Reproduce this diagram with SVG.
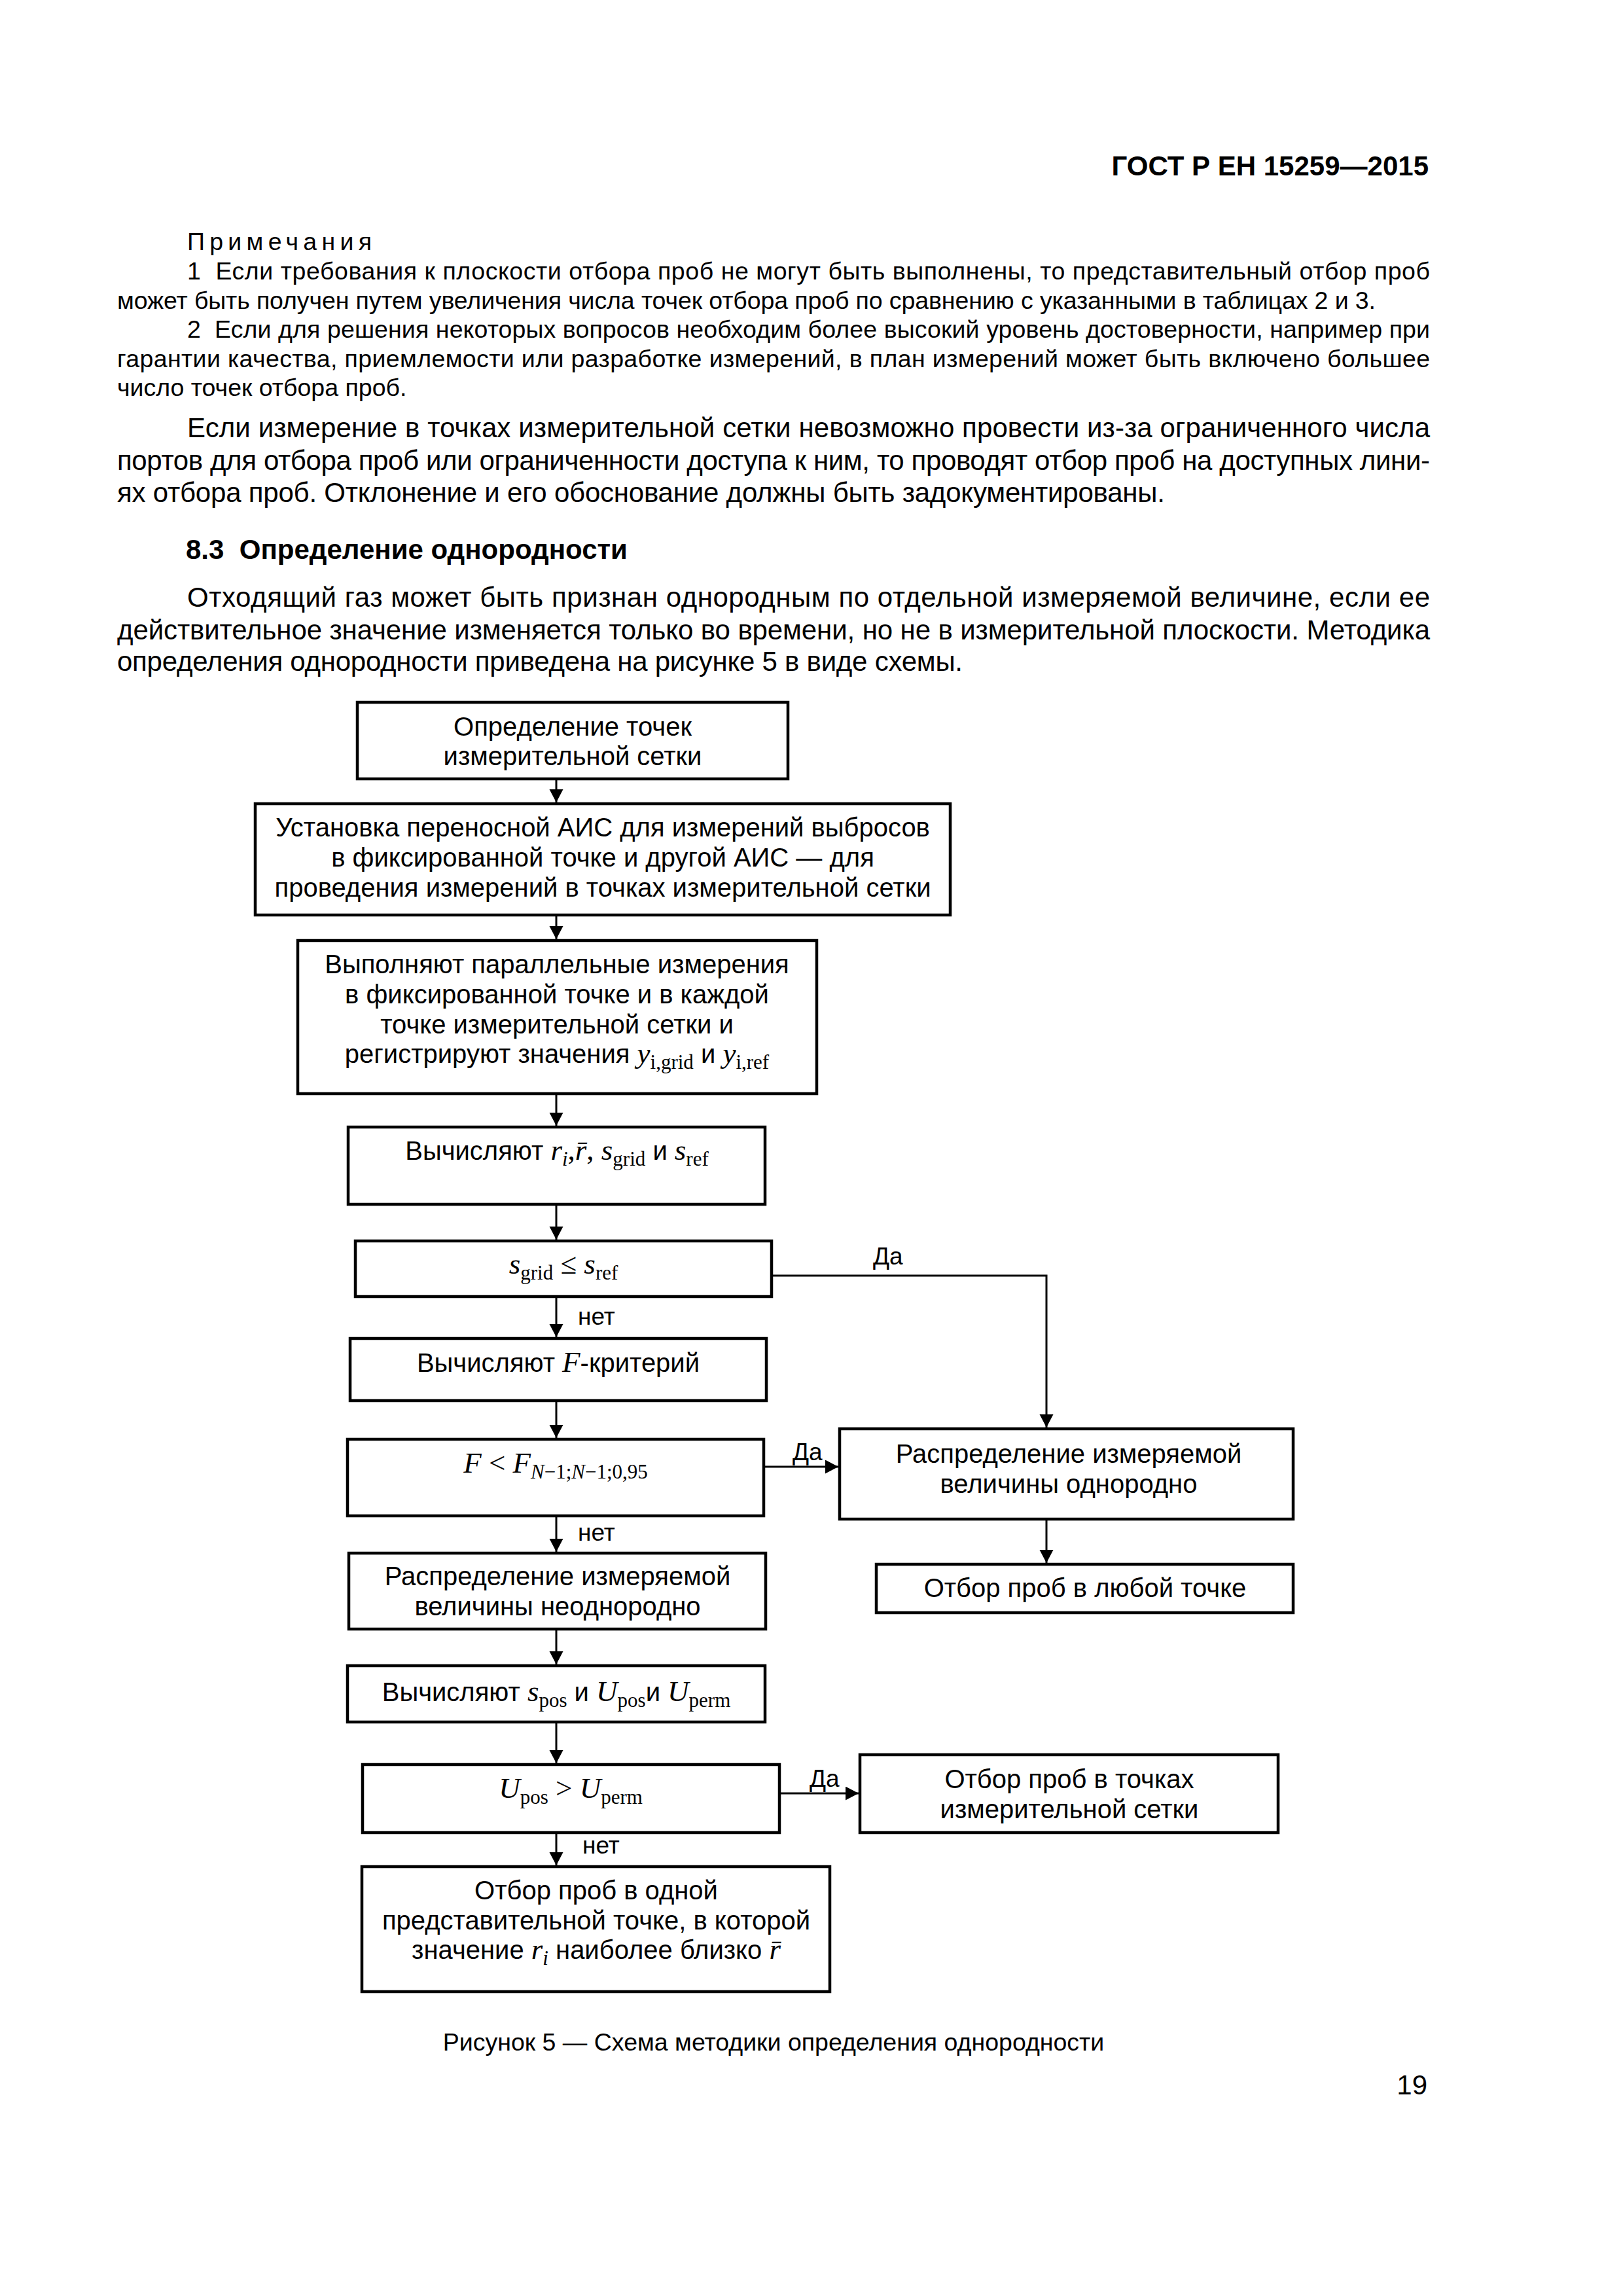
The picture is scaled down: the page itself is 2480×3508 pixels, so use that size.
<svg xmlns="http://www.w3.org/2000/svg" width="2480" height="3508" viewBox="0 0 2480 3508">
<style>
text{font-family:"Liberation Sans",Arial,sans-serif;fill:#000}
.hdr{font-size:42px;font-weight:bold}
.body{font-size:42px}
.bold{font-weight:bold}
.note{font-size:37.5px}
.fc{font-size:40px;text-anchor:middle}
.lbl{font-size:37px}
.cap{font-size:37.5px;text-anchor:middle}
.mi{font-family:"Liberation Serif",serif;font-style:italic;font-size:45px}
.mr{font-family:"Liberation Serif",serif;font-size:45px}
.sub{font-family:"Liberation Serif",serif;font-size:31px;font-style:normal}
.subi{font-family:"Liberation Serif",serif;font-size:31px;font-style:italic}
.box{fill:#fff;stroke:#000;stroke-width:4.5}
.con{fill:none;stroke:#000;stroke-width:3}
</style>
<defs>
<marker id="ah" markerUnits="userSpaceOnUse" markerWidth="22" markerHeight="22" refX="20" refY="10.5" orient="auto">
<path d="M0,0 L20,10.5 L0,21 Z" fill="#000"/>
</marker>
</defs>
<rect width="2480" height="3508" fill="#fff"/>

<g id="page-text">
<text class="hdr" x="2183" y="268" text-anchor="end">ГОСТ Р ЕН 15259—2015</text>
<text class="note" x="286" y="382" textLength="282" lengthAdjust="spacing">Примечания</text>
<text class="note" x="286" y="427" textLength="1899" lengthAdjust="spacing">1&#160; Если требования к плоскости отбора проб не могут быть выполнены, то представительный отбор проб</text>
<text class="note" x="179" y="472" textLength="1923" lengthAdjust="spacing">может быть получен путем увеличения числа точек отбора проб по сравнению с указанными в таблицах 2 и 3.</text>
<text class="note" x="286" y="516" textLength="1899" lengthAdjust="spacing">2&#160; Если для решения некоторых вопросов необходим более высокий уровень достоверности, например при</text>
<text class="note" x="179" y="561" textLength="2006" lengthAdjust="spacing">гарантии качества, приемлемости или разработке измерений, в план измерений может быть включено большее</text>
<text class="note" x="179" y="605">число точек отбора проб.</text>
<text class="body" x="286" y="668" textLength="1899" lengthAdjust="spacing">Если измерение в точках измерительной сетки невозможно провести из-за ограниченного числа</text>
<text class="body" x="179" y="718" textLength="2006" lengthAdjust="spacing">портов для отбора проб или ограниченности доступа к ним, то проводят отбор проб на доступных лини-</text>
<text class="body" x="179" y="767" textLength="1601" lengthAdjust="spacing">ях отбора проб. Отклонение и его обоснование должны быть задокументированы.</text>
<text class="body bold" x="284" y="854">8.3&#160; Определение однородности</text>
<text class="body" x="286" y="927" textLength="1899" lengthAdjust="spacing">Отходящий газ может быть признан однородным по отдельной измеряемой величине, если ее</text>
<text class="body" x="179" y="977" textLength="2006" lengthAdjust="spacing">действительное значение изменяется только во времени, но не в измерительной плоскости. Методика</text>
<text class="body" x="179" y="1025" textLength="1292" lengthAdjust="spacing">определения однородности приведена на рисунке 5 в виде схемы.</text>
<text class="cap" x="1182" y="3133">Рисунок 5 — Схема методики определения однородности</text>
<text class="body" x="2181" y="3200" text-anchor="end">19</text>
</g>

<g id="connectors">
<line class="con" x1="850" y1="1190" x2="850" y2="1226" marker-end="url(#ah)"/>
<line class="con" x1="850" y1="1398" x2="850" y2="1435" marker-end="url(#ah)"/>
<line class="con" x1="850" y1="1671" x2="850" y2="1720" marker-end="url(#ah)"/>
<line class="con" x1="850" y1="1840" x2="850" y2="1894" marker-end="url(#ah)"/>
<line class="con" x1="850" y1="1981" x2="850" y2="2043" marker-end="url(#ah)"/>
<line class="con" x1="850" y1="2140" x2="850" y2="2197" marker-end="url(#ah)"/>
<line class="con" x1="850" y1="2316" x2="850" y2="2371" marker-end="url(#ah)"/>
<line class="con" x1="850" y1="2489" x2="850" y2="2543" marker-end="url(#ah)"/>
<line class="con" x1="850" y1="2631" x2="850" y2="2694" marker-end="url(#ah)"/>
<line class="con" x1="850" y1="2800" x2="850" y2="2850" marker-end="url(#ah)"/>
<polyline class="con" points="1179,1949 1599,1949 1599,2181" marker-end="url(#ah)"/>
<line class="con" x1="1167" y1="2241" x2="1281" y2="2241" marker-end="url(#ah)"/>
<line class="con" x1="1599" y1="2321" x2="1599" y2="2388" marker-end="url(#ah)"/>
<line class="con" x1="1191" y1="2740" x2="1312" y2="2740" marker-end="url(#ah)"/>
<text class="lbl" x="1334" y="1932">Да</text>
<text class="lbl" x="1211" y="2231">Да</text>
<text class="lbl" x="1237" y="2730">Да</text>
<text class="lbl" x="883" y="2024">нет</text>
<text class="lbl" x="883" y="2354">нет</text>
<text class="lbl" x="890" y="2832">нет</text>
</g>

<g id="n1">
<rect class="box" x="546" y="1073" width="658" height="117"/>
<text class="fc" x="875" y="1124">Определение точек</text>
<text class="fc" x="875" y="1169">измерительной сетки</text>
</g>
<g id="n2">
<rect class="box" x="390" y="1228" width="1062" height="170"/>
<text class="fc" x="921" y="1278">Установка переносной АИС для измерений выбросов</text>
<text class="fc" x="921" y="1324">в фиксированной точке и другой АИС — для</text>
<text class="fc" x="921" y="1370">проведения измерений в точках измерительной сетки</text>
</g>
<g id="n3">
<rect class="box" x="455" y="1437" width="793" height="234"/>
<text class="fc" x="851" y="1487">Выполняют параллельные измерения</text>
<text class="fc" x="851" y="1533">в фиксированной точке и в каждой</text>
<text class="fc" x="851" y="1579">точке измерительной сетки и</text>
<text class="fc" x="851" y="1624">регистрируют значения <tspan class="mi">y</tspan><tspan class="sub" dy="9">i,grid</tspan><tspan dy="-9"> и </tspan><tspan class="mi">y</tspan><tspan class="sub" dy="9">i,ref</tspan></text>
</g>
<g id="n4">
<rect class="box" x="532" y="1722" width="637" height="118"/>
<text class="fc" x="851" y="1772">Вычисляют <tspan class="mi">r</tspan><tspan class="subi" dy="9">i</tspan><tspan class="mr" dy="-9">,</tspan><tspan class="mi">r&#x304;</tspan><tspan class="mr">, </tspan><tspan class="mi">s</tspan><tspan class="sub" dy="9">grid</tspan><tspan dy="-9"> и </tspan><tspan class="mi">s</tspan><tspan class="sub" dy="9">ref</tspan></text>
</g>
<g id="n5">
<rect class="box" x="543" y="1896" width="636" height="85"/>
<text class="fc" x="861" y="1946"><tspan class="mi">s</tspan><tspan class="sub" dy="9">grid</tspan><tspan class="mr" dy="-9"> ≤ </tspan><tspan class="mi">s</tspan><tspan class="sub" dy="9">ref</tspan></text>
</g>
<g id="n6">
<rect class="box" x="535" y="2045" width="636" height="95"/>
<text class="fc" x="853" y="2096">Вычисляют <tspan class="mi">F</tspan>-критерий</text>
</g>
<g id="n7">
<rect class="box" x="531" y="2199" width="636" height="117"/>
<text class="fc" x="849" y="2250"><tspan class="mi">F</tspan><tspan class="mr"> &lt; </tspan><tspan class="mi">F</tspan><tspan class="sub" dy="9"><tspan class="subi">N</tspan>−1;<tspan class="subi">N</tspan>−1;0,95</tspan></text>
</g>
<g id="n8">
<rect class="box" x="1283" y="2183" width="693" height="138"/>
<text class="fc" x="1633" y="2235">Распределение измеряемой</text>
<text class="fc" x="1633" y="2281">величины однородно</text>
</g>
<g id="n9">
<rect class="box" x="533" y="2373" width="637" height="116"/>
<text class="fc" x="852" y="2422">Распределение измеряемой</text>
<text class="fc" x="852" y="2468">величины неоднородно</text>
</g>
<g id="n10">
<rect class="box" x="1339" y="2390" width="637" height="74"/>
<text class="fc" x="1658" y="2440">Отбор проб в любой точке</text>
</g>
<g id="n11">
<rect class="box" x="531" y="2545" width="638" height="86"/>
<text class="fc" x="850" y="2599">Вычисляют <tspan class="mi">s</tspan><tspan class="sub" dy="9">pos</tspan><tspan dy="-9"> и </tspan><tspan class="mi">U</tspan><tspan class="sub" dy="9">pos</tspan><tspan dy="-9">и </tspan><tspan class="mi">U</tspan><tspan class="sub" dy="9">perm</tspan></text>
</g>
<g id="n12">
<rect class="box" x="554" y="2696" width="637" height="104"/>
<text class="fc" x="872" y="2747"><tspan class="mi">U</tspan><tspan class="sub" dy="9">pos</tspan><tspan class="mr" dy="-9"> &gt; </tspan><tspan class="mi">U</tspan><tspan class="sub" dy="9">perm</tspan></text>
</g>
<g id="n13">
<rect class="box" x="1314" y="2681" width="639" height="119"/>
<text class="fc" x="1634" y="2732">Отбор проб в точках</text>
<text class="fc" x="1634" y="2778">измерительной сетки</text>
</g>
<g id="n14">
<rect class="box" x="553" y="2852" width="715" height="191"/>
<text class="fc" x="911" y="2902">Отбор проб в одной</text>
<text class="fc" x="911" y="2948">представительной точке, в которой</text>
<text class="fc" x="911" y="2993">значение <tspan class="mi">r</tspan><tspan class="subi" dy="9">i</tspan><tspan dy="-9"> наиболее близко </tspan><tspan class="mi">r&#x304;</tspan></text>
</g>
</svg>
